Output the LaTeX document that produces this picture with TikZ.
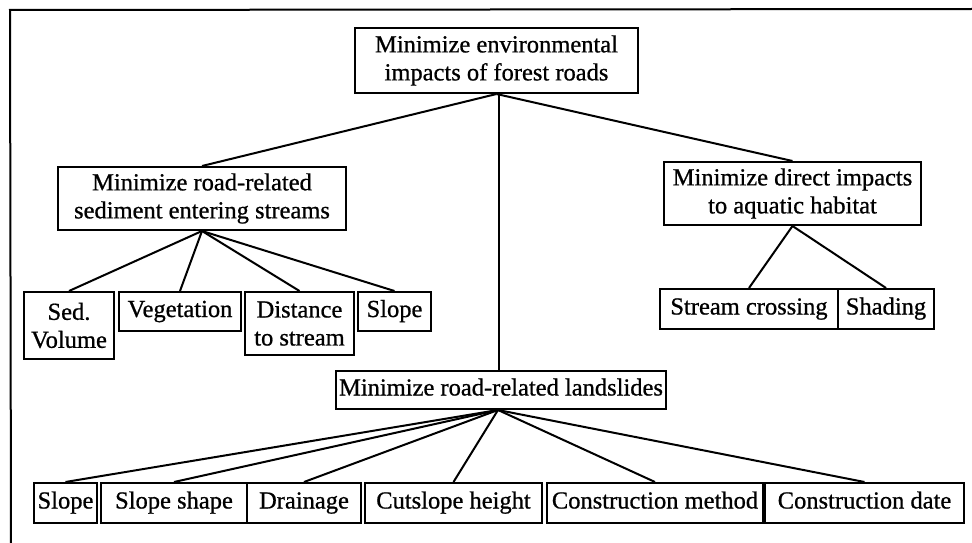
\documentclass[tikz,border=0pt]{standalone}
\usepackage{fontspec}
\setmainfont{Liberation Serif}
\newfontfamily\diafont{Liberation Serif}[FakeBold=0.8]
\tikzset{
  box/.style={draw, line width=2pt, rectangle, inner sep=0pt, align=center,
    font=\diafont\fontsize{24.5}{28}\selectfont},
  one/.style={text height=17pt, text depth=6pt},
  link/.style={line width=2pt},
}
\begin{document}
\begin{tikzpicture}[x=1pt,y=-1pt]
\useasboundingbox (0,0) rectangle (972,543);
\fill[white] (0,0) rectangle (972,543);
% frame (top and left edges visible)
\coordinate (ftl) at (10,10);
\coordinate (ftr) at (972,9);
\coordinate (fbl) at (11,543);
\draw[line width=2pt] (ftr) -- (ftl) -- (fbl);

\node[box, minimum width=283pt, minimum height=65pt] (root) at (496.5,60.5) {Minimize environmental\\impacts of forest roads};
\node[box, minimum width=288pt, minimum height=63pt] (sed) at (202,198.5) {Minimize road-related\\sediment entering streams};
\node[box, minimum width=257pt, minimum height=63pt] (aqua) at (792.5,193.5) {Minimize direct impacts\\to aquatic habitat};

\node[box, minimum width=90pt, minimum height=67pt] (sedvol) at (69,325.5) {Sed.\\Volume};
\node[box, one, minimum width=122pt, minimum height=39pt] (veg) at (180,311.5) {Vegetation};
\node[box, minimum width=109pt, minimum height=63pt] (dist) at (299.5,323.5) {Distance\\to stream};
\node[box, one, minimum width=73pt, minimum height=39pt] (slopea) at (394.5,311.5) {Slope};

\node[box, one, minimum width=178pt, minimum height=40pt] (cross) at (749,309) {Stream crossing};
\node[box, one, minimum width=96pt, minimum height=40pt] (shade) at (886,309) {Shading};

\node[box, one, minimum width=330pt, minimum height=38pt] (land) at (501,390) {Minimize road-related landslides};

\node[box, one, minimum width=63pt, minimum height=40pt] (slopeb) at (65.5,503) {Slope};
\node[box, one, minimum width=146pt, minimum height=40pt] (shape) at (174,503) {Slope shape};
\node[box, one, minimum width=114pt, minimum height=40pt] (drain) at (304,503) {Drainage};
\node[box, one, minimum width=177pt, minimum height=40pt] (cut) at (453.5,503) {Cutslope height};
\node[box, one, minimum width=216pt, minimum height=40pt] (cmeth) at (655,503) {Construction method};
\node[box, one, minimum width=199pt, minimum height=40pt] (cdate) at (864.5,503) {Construction date};

\draw[link] (root.south) -- (sed.north);
\draw[link] (root.south) -- (aqua.north);
\draw[link] ([xshift=2pt]root.south) -- ([xshift=2pt]root.south |- land.north);

\foreach \t in {sedvol,veg,dist,slopea} \draw[link] (sed.south) -- (\t.north);
\foreach \t in {cross,shade} \draw[link] (aqua.south) -- (\t.north);
\foreach \t in {slopeb,shape,drain,cut,cmeth,cdate} \draw[link] ([xshift=-3pt]land.south) -- (\t.north);
\end{tikzpicture}
\end{document}
